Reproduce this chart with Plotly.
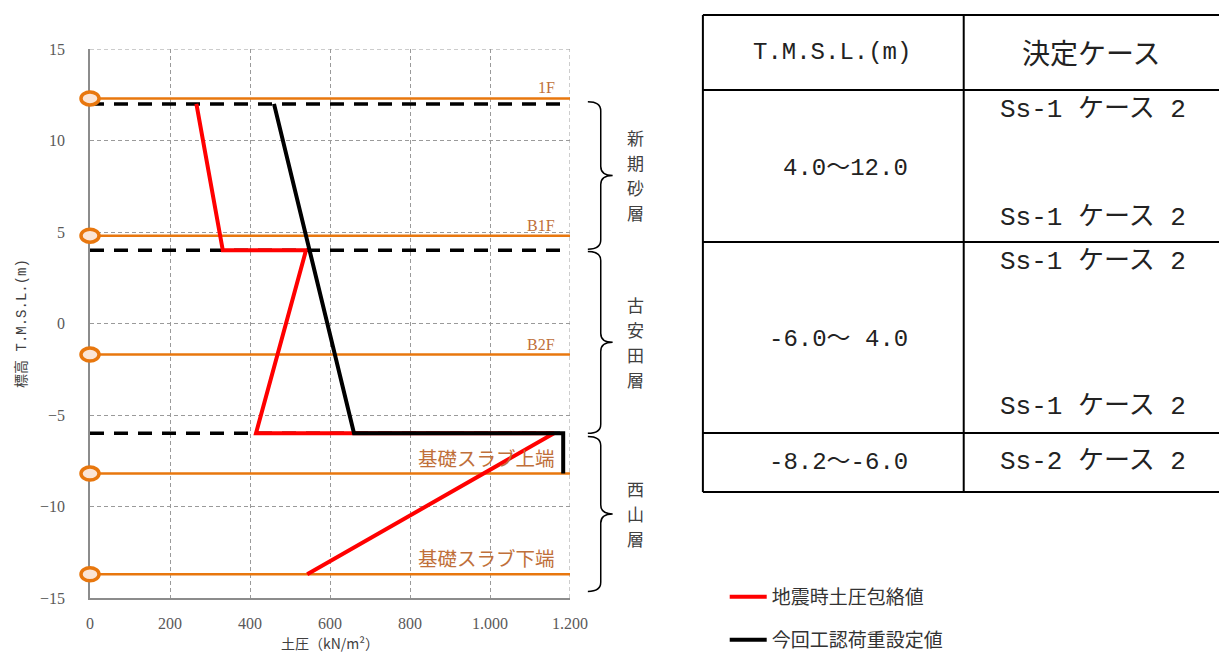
import plotly.graph_objects as go

# ---------------- data ----------------
x_ticks = [0, 200, 400, 600, 800, 1000, 1200]
x_tick_text = ["0", "200", "400", "600", "800", "1.000", "1.200"]
y_ticks = [15, 10, 5, 0, -5, -10, -15]

level_names = ["1F", "B1F", "B2F", "基礎スラブ上端", "基礎スラブ下端"]
level_values = [12.3, 4.8, -1.7, -8.2, -13.7]

boundary_values = [12.0, 4.0, -6.0]

red_name = "地震時土圧包絡値"
red_x = [266, 332, 540, 415, 1160, 543]
red_y = [12.0, 4.0, 4.0, -6.0, -6.0, -13.7]

black_name = "今回工認荷重設定値"
black_x = [460, 660, 1183, 1183]
black_y = [12.0, -6.0, -6.0, -8.2]

layer_names = ["新期砂層", "古安田層", "西山層"]
layer_tops = [12.12, 3.94, -6.17]
layer_bottoms = [4.06, -6.0, -14.64]

table_header = ["T.M.S.L.(m)", "決定ケース"]
table_ranges = ["4.0～12.0", "-6.0～ 4.0", "-8.2～-6.0"]
table_cases = [["Ss-1 ケース 2", "Ss-1 ケース 2"],
               ["Ss-1 ケース 2", "Ss-1 ケース 2"],
               ["Ss-2 ケース 2"]]

# ---------------- layout helpers ----------------
OFF = 8                      # page body margin
W, H = 1227 - OFF, 700       # figure taller than the window so legends never push margins
PL, PR, PT, PB = 86, 570, 49, 598   # plot area in page pixels
X_MIN, X_MAX = 0, 1200
Y_MIN, Y_MAX = -15, 15


def px(x):
    return (x - PL) / (PR - PL)


def py(y):
    return (PB - y) / (PB - PT)


ORANGE = "#E8770E"
LABEL_ORANGE = "#C0703A"
SERIF = "Liberation Serif, Noto Sans CJK JP, serif"
CJK = "Noto Sans CJK JP, sans-serif"
MONO = "Liberation Mono, Noto Sans CJK JP, monospace"

fig = go.Figure()

# orange floor lines
lx, ly = [], []
for v in level_values:
    lx += [X_MIN, X_MAX, None]
    ly += [v, v, None]
fig.add_trace(go.Scatter(x=lx, y=ly, mode="lines", line=dict(color=ORANGE, width=2.5),
                         showlegend=False, hoverinfo="skip"))

# black dashed layer boundaries
bx, by = [], []
for v in boundary_values:
    bx += [X_MIN, X_MAX, None]
    by += [v, v, None]
fig.add_trace(go.Scatter(x=bx, y=by, mode="lines",
                         line=dict(color="black", width=3.5, dash="14px,10px"),
                         showlegend=False, hoverinfo="skip"))

# red and black profiles
fig.add_trace(go.Scatter(x=red_x, y=red_y, mode="lines", name=red_name,
                         line=dict(color="#FF0000", width=4), legend="legend"))
fig.add_trace(go.Scatter(x=black_x, y=black_y, mode="lines", name=black_name,
                         line=dict(color="black", width=4), legend="legend2"))

annotations = []
shapes = []

# top / right dashed grid borders
grid_dash = "4px,3px"
shapes.append(dict(type="line", xref="x", yref="paper", x0=X_MAX, x1=X_MAX, y0=0, y1=1,
                   line=dict(color="#9A9A9A", width=1, dash=grid_dash), layer="below"))
shapes.append(dict(type="line", xref="paper", yref="y", x0=0, x1=1, y0=Y_MAX, y1=Y_MAX,
                   line=dict(color="#9A9A9A", width=1, dash=grid_dash), layer="below"))

# floor markers (ellipses anchored at the level values, on the y axis)
for v in level_values:
    shapes.append(dict(type="circle", xref="paper", yref="y", xsizemode="pixel", ysizemode="pixel",
                       xanchor=0, yanchor=v, x0=-9, x1=9, y0=-6.5, y1=6.5,
                       fillcolor="#FBE5D6", line=dict(color=ORANGE, width=3.5), layer="above"))

# floor labels
for name, v in zip(level_names, level_values):
    is_cjk = any(ord(c) > 255 for c in name)
    annotations.append(dict(x=1168, y=v, xref="x", yref="y", text=name, showarrow=False,
                            xanchor="right", yanchor="bottom",
                            font=dict(family=SERIF if not is_cjk else CJK,
                                      size=16 if not is_cjk else 19.5, color=LABEL_ORANGE)))

# braces
xe, xs, xt = px(588), px(601), px(613)
r = 0.5
for name, top, bot in zip(layer_names, layer_tops, layer_bottoms):
    ym = (top + bot) / 2
    path = (f"M {xe},{top} Q {xs},{top} {xs},{top - r} L {xs},{ym + r} "
            f"Q {xs},{ym} {xt},{ym} Q {xs},{ym} {xs},{ym - r} L {xs},{bot + r} "
            f"Q {xs},{bot} {xe},{bot}")
    shapes.append(dict(type="path", xref="paper", yref="y", path=path,
                       line=dict(color="black", width=1.5)))
    n = len(name)
    step = 25 / ((PB - PT) / (Y_MAX - Y_MIN))
    for i, ch in enumerate(name):
        yc = ym + ((n - 1) / 2 - i) * step
        annotations.append(dict(x=px(636), y=yc, xref="paper", yref="y", text=ch,
                                showarrow=False, xanchor="center", yanchor="middle",
                                font=dict(family=CJK, size=17, color="#404040")))

# table
T_L, T_R = 704, 1240
T_COL = 967
row_lines = [15, 90, 242, 433, 492]
for yl in row_lines:
    shapes.append(dict(type="line", xref="paper", yref="paper", x0=px(T_L), x1=px(T_R),
                       y0=py(yl), y1=py(yl), line=dict(color="black", width=2)))
for xl in [T_L, T_COL]:
    shapes.append(dict(type="line", xref="paper", yref="paper", x0=px(xl), x1=px(xl),
                       y0=py(row_lines[0]), y1=py(row_lines[-1]), line=dict(color="black", width=2)))

annotations.append(dict(x=px(834), y=py(52), xref="paper", yref="paper", text=table_header[0],
                        showarrow=False, xanchor="center", yanchor="middle",
                        font=dict(family=MONO, size=24, color="#222")))
annotations.append(dict(x=px(1096), y=py(52), xref="paper", yref="paper", text=table_header[1],
                        showarrow=False, xanchor="center", yanchor="middle",
                        font=dict(family=CJK, size=28, color="#222")))
range_y = [168, 340, 462]
case_y = [[110, 218], [262, 407], [462]]
for txt, yy in zip(table_ranges, range_y):
    annotations.append(dict(x=px(913), y=py(yy), xref="paper", yref="paper", text=txt,
                            showarrow=False, xanchor="right", yanchor="middle",
                            font=dict(family=MONO, size=24, color="#222")))
for cases, ys in zip(table_cases, case_y):
    for txt, yy in zip(cases, ys):
        annotations.append(dict(x=px(1097), y=py(yy), xref="paper", yref="paper", text=txt,
                                showarrow=False, xanchor="center", yanchor="middle",
                                font=dict(family=MONO, size=26, color="#222")))

axis_font = dict(family=SERIF, size=16, color="#595959")
legend_font = dict(family=CJK, size=19, color="#333")

fig.update_layout(
    width=W, height=H, autosize=False,
    margin=dict(l=PL - OFF, r=W - (PR - OFF), t=PT - OFF, b=H - (PB - OFF), pad=0),
    plot_bgcolor="white", paper_bgcolor="white",
    xaxis=dict(range=[X_MIN, X_MAX], tickvals=x_ticks, ticktext=x_tick_text,
               showline=True, linecolor="#8C8C8C", linewidth=1.5, showgrid=True,
               gridcolor="#9A9A9A", gridwidth=1, griddash=grid_dash, zeroline=False,
               ticks="", tickfont=axis_font, ticklabelstandoff=10,
               title=dict(text="土圧（kN/m²）", font=dict(family=CJK, size=14, color="#404040"),
                          standoff=8)),
    yaxis=dict(range=[Y_MIN, Y_MAX], tickvals=y_ticks, showline=True, linecolor="#8C8C8C",
               linewidth=1.5, showgrid=True, gridcolor="#9A9A9A", gridwidth=1,
               griddash=grid_dash, zeroline=False, ticks="", tickfont=axis_font,
               ticklabelstandoff=20,
               title=dict(text="標高 T.M.S.L.(m)", font=dict(family=MONO, size=14, color="#404040"),
                          standoff=10)),
    legend=dict(x=px(726), y=py(597), xanchor="left", yanchor="middle", itemwidth=37,
                font=legend_font, bgcolor="rgba(0,0,0,0)"),
    legend2=dict(x=px(726), y=py(640), xanchor="left", yanchor="middle", itemwidth=37,
                 font=legend_font, bgcolor="rgba(0,0,0,0)"),
    annotations=annotations, shapes=shapes,
)

fig.write_html("out.html")
